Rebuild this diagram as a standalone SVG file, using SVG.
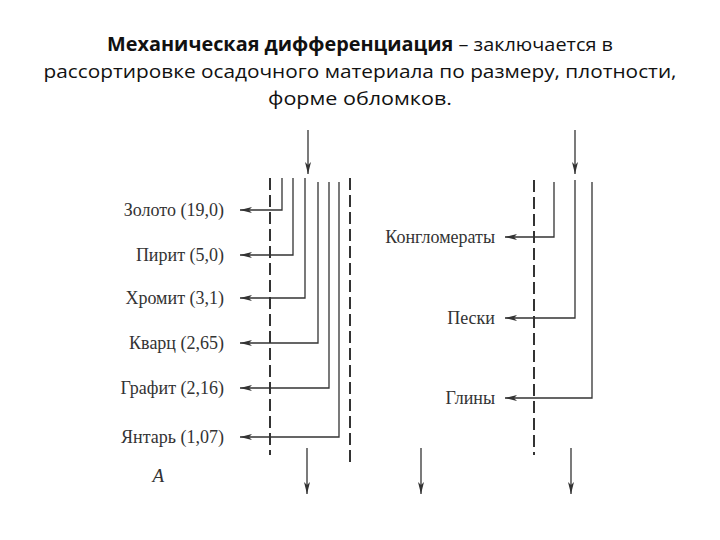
<svg xmlns="http://www.w3.org/2000/svg" width="720" height="540" viewBox="0 0 720 540">
<defs>
<marker id="ah" viewBox="0 0 12 6" refX="12" refY="3" markerWidth="12" markerHeight="6" markerUnits="userSpaceOnUse" orient="auto">
<path d="M0,0 L12,3 L0,6 L3,3 Z" fill="#333"/>
</marker>
</defs>
<style>
.t{font-family:"Open Sans","Noto Sans",sans-serif;font-size:19px;fill:#111;text-anchor:middle}
.b{font-weight:bold}
.lb{font-family:"Liberation Serif","DejaVu Serif",serif;font-size:18px;fill:#333;text-anchor:end}
.ds{stroke:#333;stroke-width:2;fill:none;stroke-dasharray:12,5}
.ar{stroke:#333;stroke-width:1.3;fill:none;marker-end:url(#ah)}
</style>
<rect width="720" height="540" fill="#fff"/>
<g id="title">
<text class="t" x="360" y="51" textLength="506" lengthAdjust="spacingAndGlyphs"><tspan class="b">Механическая дифференциация</tspan> – заключается в</text>
<text class="t" x="360" y="78" textLength="633" lengthAdjust="spacingAndGlyphs">рассортировке осадочного материала по размеру, плотности,</text>
<text class="t" x="360" y="105" textLength="184" lengthAdjust="spacingAndGlyphs">форме обломков.</text>
</g>
<g id="connectors">
<line class="ar" x1="308" y1="130" x2="308" y2="174"/>
<line class="ds" x1="270" y1="178" x2="270" y2="455"/>
<line class="ds" x1="350" y1="178" x2="350" y2="465"/>
<polyline class="ar" points="282,178 282,210 240,210"/>
<polyline class="ar" points="293,178 293,255 240,255"/>
<polyline class="ar" points="305,178 305,298 240,298"/>
<polyline class="ar" points="318,182 318,343 240,343"/>
<polyline class="ar" points="329,182 329,388 240,388"/>
<polyline class="ar" points="339,182 339,437 240,437"/>
<line class="ar" x1="307" y1="448" x2="307" y2="494"/>
<line class="ar" x1="575" y1="130" x2="575" y2="174"/>
<line class="ds" x1="534" y1="180" x2="534" y2="455"/>
<polyline class="ar" points="554,182 554,237 505,237"/>
<polyline class="ar" points="575,180 575,318 505,318"/>
<polyline class="ar" points="592,182 592,398 505,398"/>
<line class="ar" x1="421" y1="448" x2="421" y2="494"/>
<line class="ar" x1="571" y1="448" x2="571" y2="494"/>
</g>
<g id="n-zoloto"><text class="lb" x="224" y="216">Золото (19,0)</text></g>
<g id="n-pirit"><text class="lb" x="224" y="261">Пирит (5,0)</text></g>
<g id="n-hromit"><text class="lb" x="224" y="304">Хромит (3,1)</text></g>
<g id="n-kvarc"><text class="lb" x="224" y="349">Кварц (2,65)</text></g>
<g id="n-grafit"><text class="lb" x="224" y="394">Графит (2,16)</text></g>
<g id="n-yantar"><text class="lb" x="224" y="443">Янтарь (1,07)</text></g>
<g id="n-a"><text class="lb" x="164" y="482" style="font-style:italic;font-size:19px">A</text></g>
<g id="n-konglo"><text class="lb" x="495" y="243">Конгломераты</text></g>
<g id="n-peski"><text class="lb" x="495" y="324">Пески</text></g>
<g id="n-gliny"><text class="lb" x="495" y="404">Глины</text></g>
</svg>
